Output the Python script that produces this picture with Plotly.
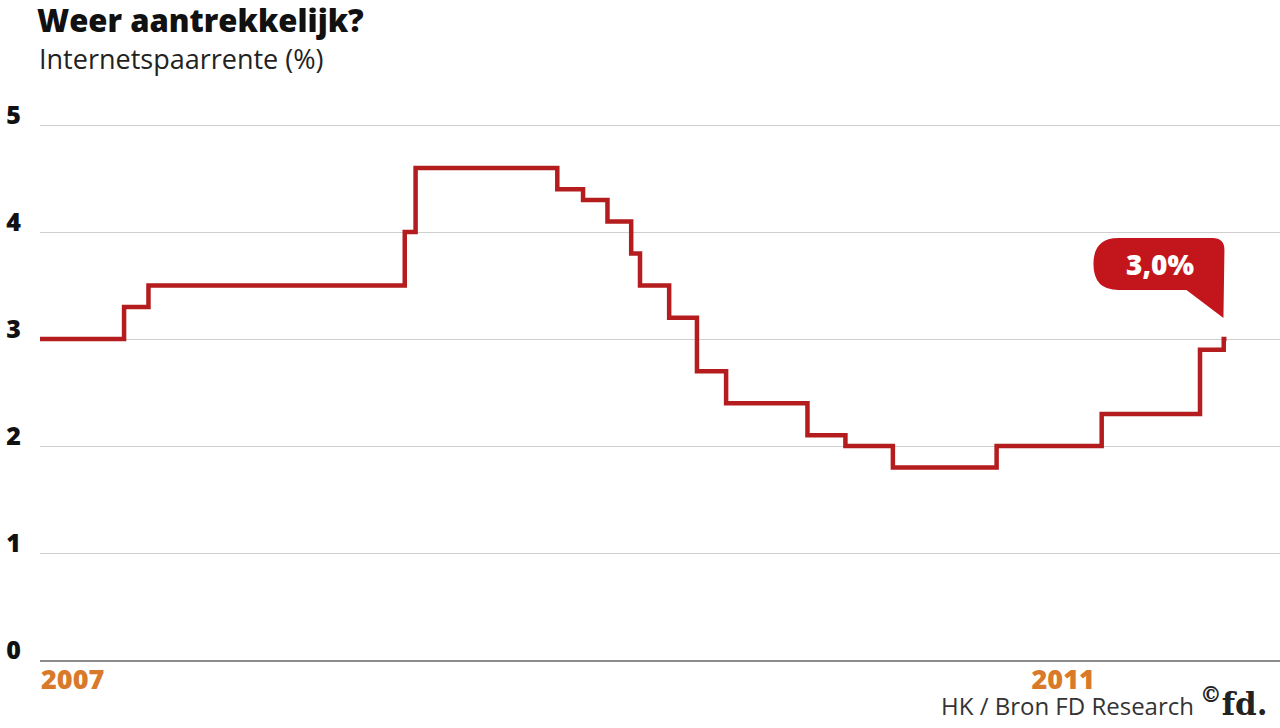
import plotly.graph_objects as go

# Internetspaarrente (%), step changes
dates = ["2007-01-01", "2007-05-05", "2007-06-10", "2008-06-22", "2008-07-08",
         "2009-02-02", "2009-03-12", "2009-04-17", "2009-05-22", "2009-06-04",
         "2009-07-17", "2009-08-27", "2009-10-09", "2010-02-06", "2010-04-03",
         "2010-06-12", "2010-11-12", "2011-04-16", "2011-09-08", "2011-10-13",
         "2011-10-17"]
rates = [3.0, 3.3, 3.5, 4.0, 4.6,
         4.4, 4.3, 4.1, 3.8, 3.5,
         3.2, 2.7, 2.4, 2.1, 2.0,
         1.8, 2.0, 2.3, 2.9, 3.0,
         3.0]

y_ticks = [0, 1, 2, 3, 4, 5]
x_ticks = ["2007-01-01", "2011-01-01"]
x_tick_labels = ["2007", "2011"]
last_label = "3,0%"

RED = "#b51c1e"
BUBBLE = "#c3161c"
ORANGE = "#d97a2b"
FONT = "Open Sans"

fig = go.Figure()

fig.add_trace(go.Scatter(x=dates, y=rates, mode="lines", line_shape="hv",
                         line=dict(color=RED, width=4.5), hoverinfo="skip",
                         showlegend=False))

# speech bubble above the last value, drawn in pixels around the end point
bubble = ("M -3,21 L -2,89 Q -2,101 -14,101 L -108,101 Q -133,101 -133,75 "
          "Q -133,49 -108,49 L -40,49 Z")
fig.add_shape(type="path", path=bubble, xref="x", yref="y",
              xsizemode="pixel", ysizemode="pixel",
              xanchor=dates[-1], yanchor=rates[-1],
              fillcolor=BUBBLE, line=dict(width=0))
fig.add_annotation(x=dates[-1], y=rates[-1], text=last_label,
                   showarrow=False, xshift=-66, yshift=75,
                   font=dict(family=FONT, size=28, color="white", weight=800))

fig.add_annotation(xref="paper", yref="paper", x=0, y=1, xshift=-3, yshift=65,
                   xanchor="left", yanchor="middle", showarrow=False,
                   text="Internetspaarrente (%)",
                   font=dict(family=FONT, size=27, color="#222222"))
fig.add_annotation(xref="paper", yref="paper", x=1, y=0, xshift=-84, yshift=-45,
                   xanchor="right", yanchor="middle", showarrow=False,
                   text="HK / Bron FD Research",
                   font=dict(family=FONT, size=24, color="#333333"))
fig.add_annotation(xref="paper", yref="paper", x=1, y=0, xshift=-10, yshift=-42,
                   xanchor="right", yanchor="middle", showarrow=False,
                   text="<sup>©</sup>fd.",
                   font=dict(family="DejaVu Serif", size=31, color="#222222",
                             weight="bold"))

fig.update_layout(
    width=1280, height=728,
    margin=dict(l=40, r=0, t=123, b=68),
    paper_bgcolor="white", plot_bgcolor="white",
    title=dict(text="Weer aantrekkelijk?", xref="container", yref="container",
               x=37 / 1280, y=1 - 21 / 728, xanchor="left", yanchor="middle",
               font=dict(family=FONT, size=31, color="#111111", weight=800)),
    xaxis=dict(range=["2007-01-01", "2012-01-04"], tickvals=x_ticks,
               ticktext=x_tick_labels, ticklabelposition="outside right",
               showgrid=False, zeroline=False, showline=True,
               linecolor="#8c8c8c", linewidth=2, ticks="", ticklabelstandoff=-5,
               tickfont=dict(family=FONT, size=27, color=ORANGE, weight=800)),
    yaxis=dict(range=[0, 5.02], tickvals=y_ticks, showgrid=True,
               gridcolor="#cfcfcf", gridwidth=1, zeroline=False, showline=False,
               ticks="", ticklabelshift=-10, ticklabelstandoff=18,
               tickfont=dict(family=FONT, size=25, color="#111111", weight=800)),
)

fig.write_html("out.html", config={"displayModeBar": False},
               post_script="document.body.style.margin='0px';")
